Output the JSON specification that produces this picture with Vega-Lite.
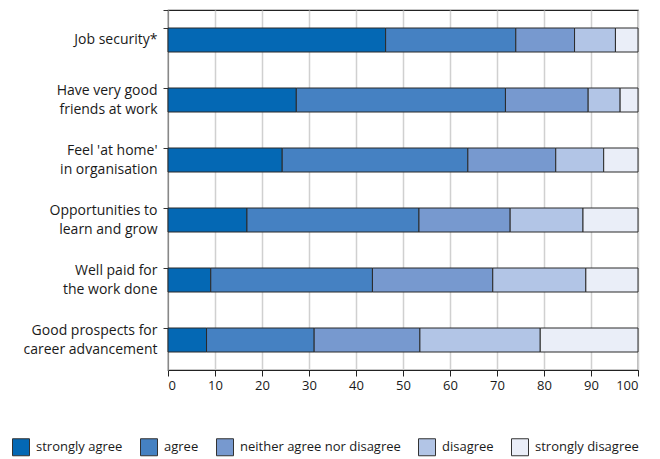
{
  "$schema": "https://vega.github.io/schema/vega-lite/v6.json",
  "autosize": {"type": "none"},
  "padding": {"left": 168, "top": 10, "right": 22, "bottom": 89},
  "width": 470,
  "height": 360,
  "config": {
    "font": "Open Sans",
    "view": {"stroke": "#222222", "strokeWidth": 1.2}
  },
  "data": {
    "values": [
      {"item": "Job security*", "response": "strongly agree", "pct": 46.3},
      {"item": "Job security*", "response": "agree", "pct": 27.7},
      {"item": "Job security*", "response": "neither agree nor disagree", "pct": 12.5},
      {"item": "Job security*", "response": "disagree", "pct": 8.7},
      {"item": "Job security*", "response": "strongly disagree", "pct": 4.8},
      {"item": "Have very good\nfriends at work", "response": "strongly agree", "pct": 27.3},
      {"item": "Have very good\nfriends at work", "response": "agree", "pct": 44.5},
      {"item": "Have very good\nfriends at work", "response": "neither agree nor disagree", "pct": 17.6},
      {"item": "Have very good\nfriends at work", "response": "disagree", "pct": 6.8},
      {"item": "Have very good\nfriends at work", "response": "strongly disagree", "pct": 3.8},
      {"item": "Feel 'at home'\nin organisation", "response": "strongly agree", "pct": 24.3},
      {"item": "Feel 'at home'\nin organisation", "response": "agree", "pct": 39.5},
      {"item": "Feel 'at home'\nin organisation", "response": "neither agree nor disagree", "pct": 18.7},
      {"item": "Feel 'at home'\nin organisation", "response": "disagree", "pct": 10.2},
      {"item": "Feel 'at home'\nin organisation", "response": "strongly disagree", "pct": 7.3},
      {"item": "Opportunities to\nlearn and grow", "response": "strongly agree", "pct": 16.8},
      {"item": "Opportunities to\nlearn and grow", "response": "agree", "pct": 36.6},
      {"item": "Opportunities to\nlearn and grow", "response": "neither agree nor disagree", "pct": 19.4},
      {"item": "Opportunities to\nlearn and grow", "response": "disagree", "pct": 15.5},
      {"item": "Opportunities to\nlearn and grow", "response": "strongly disagree", "pct": 11.7},
      {"item": "Well paid for\nthe work done", "response": "strongly agree", "pct": 9.1},
      {"item": "Well paid for\nthe work done", "response": "agree", "pct": 34.4},
      {"item": "Well paid for\nthe work done", "response": "neither agree nor disagree", "pct": 25.6},
      {"item": "Well paid for\nthe work done", "response": "disagree", "pct": 19.8},
      {"item": "Well paid for\nthe work done", "response": "strongly disagree", "pct": 11.1},
      {"item": "Good prospects for\ncareer advancement", "response": "strongly agree", "pct": 8.2},
      {"item": "Good prospects for\ncareer advancement", "response": "agree", "pct": 22.9},
      {"item": "Good prospects for\ncareer advancement", "response": "neither agree nor disagree", "pct": 22.5},
      {"item": "Good prospects for\ncareer advancement", "response": "disagree", "pct": 25.6},
      {"item": "Good prospects for\ncareer advancement", "response": "strongly disagree", "pct": 20.8}
    ]
  },
  "transform": [
    {"calculate": "indexof(['strongly agree', 'agree', 'neither agree nor disagree', 'disagree', 'strongly disagree'], datum.response)", "as": "stackOrder"}
  ],
  "mark": {"type": "bar", "stroke": "#2a2a2a", "strokeWidth": 1},
  "encoding": {
    "y": {
      "field": "item",
      "type": "nominal",
      "sort": null,
      "scale": {"paddingInner": 0.6, "paddingOuter": 0.3},
      "axis": {
        "title": null,
        "labelExpr": "indexof(datum.label, '\\n') >= 0 ? [split(datum.label, '\\n')[0], '\u200b', split(datum.label, '\\n')[1]] : ['\u200b', datum.label]",
        "labelFontSize": 14,
        "labelColor": "#1a1a1a",
        "labelLineHeight": 9.5,
        "labelOffset": -9.5,
        "labelPadding": 6,
        "bandPosition": 0,
        "tickExtra": true,
        "tickSize": 5,
        "tickColor": "#333333",
        "domainColor": "#888888",
        "grid": false
      }
    },
    "x": {
      "field": "pct",
      "type": "quantitative",
      "stack": "zero",
      "scale": {"domain": [0, 100], "nice": false},
      "axis": {
        "title": null,
        "values": [0, 10, 20, 30, 40, 50, 60, 70, 80, 90, 100],
        "labelFontSize": 13,
        "labelColor": "#1a1a1a",
        "labelPadding": 3,
        "tickSize": 6,
        "tickColor": "#222222",
        "domainColor": "#222222",
        "grid": true,
        "gridColor": "#d0d0d0",
        "gridWidth": 1.5
      }
    },
    "order": {"field": "stackOrder", "type": "quantitative", "sort": "ascending"},
    "color": {
      "field": "response",
      "type": "nominal",
      "sort": ["strongly agree", "agree", "neither agree nor disagree", "disagree", "strongly disagree"],
      "scale": {
        "domain": ["strongly agree", "agree", "neither agree nor disagree", "disagree", "strongly disagree"],
        "range": ["#0468b4", "#4581c2", "#7799cf", "#b2c5e6", "#eaeef8"]
      },
      "legend": {
        "title": null,
        "orient": "none",
        "direction": "horizontal",
        "legendX": -156,
        "legendY": 428,
        "symbolType": "square",
        "symbolSize": 289,
        "symbolStrokeColor": "#333333",
        "symbolStrokeWidth": 1,
        "symbolOpacity": 1,
        "labelFontSize": 13,
        "labelColor": "#1a1a1a",
        "labelOffset": 6,
        "labelLimit": 0,
        "columnPadding": 15
      }
    }
  }
}
